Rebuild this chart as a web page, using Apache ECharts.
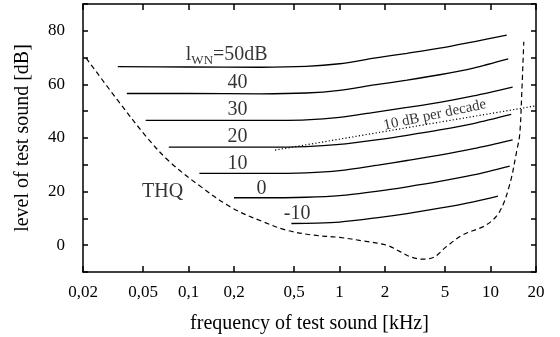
<!DOCTYPE html>
<html><head><meta charset="utf-8">
<script src="https://cdn.jsdelivr.net/npm/echarts@6/dist/echarts.min.js"></script>
<style>html,body{margin:0;padding:0;background:#fff}#c{width:560px;height:337px}</style>
</head><body><div id="c"></div>
<script>
// ---- data (frequency in kHz, level in dB) ----
const xTickValues = [0.02, 0.05, 0.1, 0.2, 0.5, 1, 2, 5, 10, 20];
const xTickLabels = ['0,02', '0,05', '0,1', '0,2', '0,5', '1', '2', '5', '10', '20'];
const yTickLabels = [0, 20, 40, 60, 80];

const l50F = [0.034, 0.1, 0.3, 0.6, 1, 1.7, 2.8, 4.6, 7.7, 12.8];
const l50  = [66.6, 66.5, 66.4, 66.7, 67.7, 69.8, 71.6, 73.5, 75.9, 78.4];
const l40F = [0.039, 0.1, 0.3, 0.6, 1, 1.7, 2.8, 4.6, 7.7, 13.1];
const l40  = [56.6, 56.6, 56.5, 56.8, 57.8, 59.8, 61.6, 63.6, 66.1, 69.5];
const l30F = [0.052, 0.1, 0.3, 0.6, 1, 1.7, 2.8, 4.6, 7.7, 14.0];
const l30  = [46.6, 46.6, 46.6, 46.8, 47.7, 49.6, 51.4, 53.3, 55.7, 59.0];
const l20F = [0.074, 0.1, 0.3, 0.6, 1, 1.8, 2.8, 4.6, 7.7, 13.7];
const l20  = [36.6, 36.6, 36.6, 36.8, 37.6, 39.4, 41.0, 43.0, 45.4, 48.8];
const l10F = [0.118, 0.3, 0.6, 1, 1.8, 2.8, 4.6, 7.7, 14.0];
const l10  = [26.8, 26.8, 27.0, 27.8, 29.9, 31.6, 33.6, 36.0, 39.3];
const l0F  = [0.2, 0.3, 0.6, 1, 1.8, 2.8, 4.6, 7.7, 13.4];
const l0   = [17.7, 17.7, 17.9, 18.5, 20.2, 21.8, 23.8, 26.2, 29.5];
const lm10F = [0.48, 0.7, 1, 1.8, 2.8, 4.6, 7.7, 11.2];
const lm10  = [8.1, 8.2, 8.6, 10.3, 11.8, 13.8, 16.2, 18.3];

const thqF = [0.021, 0.0335, 0.0534, 0.0744, 0.115, 0.196, 0.31, 0.44, 0.66, 1.0, 1.43, 2.05, 2.5, 2.9, 3.48, 4.17, 5.11, 6.58, 9.4, 11.5, 13.4, 14.9, 15.6, 16.1, 16.6];
const thq  = [69.8, 54.5, 40.0, 31.3, 22.7, 13.8, 8.8, 5.7, 3.8, 2.9, 1.6, 0.0, -2.3, -4.2, -5.2, -4.6, -0.5, 3.9, 7.6, 12.6, 22.7, 35.1, 41.3, 56.8, 75.9];

const decF = [0.374, 20];
const dec  = [35.5, 52.0];

// annotation texts (anchored in data coordinates: kHz, dB)
const annotations = [
  {text: '{a|l}{b|WN}{a|=50dB}', f: 0.179, db: 71.0},
  {text: '40', f: 0.211, db: 60.5},
  {text: '30', f: 0.211, db: 50.4},
  {text: '20', f: 0.211, db: 40.4},
  {text: '10', f: 0.211, db: 30.3},
  {text: '0',  f: 0.304, db: 21.2},
  {text: '-10', f: 0.524, db: 11.8},
  {text: 'THQ', f: 0.0673, db: 20.0, size: 20},
  {text: '10 dB per decade', f: 4.28, db: 48.6, size: 15, rotate: 12}
];

// ---- chart ----
const FONT = 'Liberation Serif';
const L = v => Math.log10(v);
const pts = (f, d) => f.map((x, i) => [L(x), d[i]]);
const xTickPos = xTickValues.map(L);
function xLabel(v) {
  let best = 0;
  for (let i = 1; i < xTickPos.length; i++) if (Math.abs(xTickPos[i] - v) < Math.abs(xTickPos[best] - v)) best = i;
  return xTickLabels[best];
}
const axisLineStyle = {onZero: false, lineStyle: {color: '#000', width: 1.5}};
const tickStyle = {color: '#000', width: 1.5};
const xMin = L(0.02), xMax = L(20);

function curve(f, d, extra) {
  return Object.assign({
    type: 'line', data: pts(f, d), showSymbol: false, smooth: 0.3,
    lineStyle: {color: '#000', width: 1.3}, silent: true, z: 3
  }, extra || {});
}

const chart = echarts.init(document.getElementById('c'));
chart.setOption({
  animation: false,
  backgroundColor: '#fff',
  grid: {left: 83, right: 24, top: 4, bottom: 65, containLabel: false, outerBoundsMode: 'none'},
  xAxis: [
    {type: 'value', min: xMin, max: xMax, position: 'bottom',
     name: 'frequency of test sound [kHz]', nameLocation: 'middle', nameGap: 42,
     nameTextStyle: {fontFamily: FONT, fontSize: 20, color: '#000'},
     axisLine: axisLineStyle,
     axisTick: {inside: true, length: 6, customValues: xTickPos, lineStyle: tickStyle},
     axisLabel: {customValues: xTickPos, formatter: xLabel, margin: 12, fontFamily: FONT, fontSize: 17, color: '#000'},
     splitLine: {show: false}},
    {type: 'value', min: xMin, max: xMax, position: 'top',
     axisLine: axisLineStyle,
     axisTick: {inside: true, length: 6, customValues: xTickPos, lineStyle: tickStyle},
     axisLabel: {show: false}, splitLine: {show: false}}
  ],
  yAxis: [
    {type: 'value', min: -10, max: 90, interval: 10, position: 'left',
     name: 'level of test sound [dB]', nameLocation: 'middle', nameGap: 50,
     nameTextStyle: {fontFamily: FONT, fontSize: 20, color: '#000'},
     axisLine: axisLineStyle,
     axisTick: {inside: true, length: 5, lineStyle: tickStyle},
     axisLabel: {formatter: v => yTickLabels.indexOf(v) >= 0 ? String(v) : '', margin: 18,
                 fontFamily: FONT, fontSize: 17, color: '#000'},
     splitLine: {show: false}},
    {type: 'value', min: -10, max: 90, interval: 10, position: 'right',
     axisLine: axisLineStyle,
     axisTick: {inside: true, length: 5, lineStyle: tickStyle},
     axisLabel: {show: false}, splitLine: {show: false}}
  ],
  series: [
    curve(l50F, l50), curve(l40F, l40), curve(l30F, l30), curve(l20F, l20),
    curve(l10F, l10), curve(l0F, l0), curve(lm10F, lm10),
    curve(thqF, thq, {smooth: 0.35, lineStyle: {color: '#000', width: 1.2, type: [5, 3.5]}}),
    curve(decF, dec, {smooth: false, lineStyle: {color: '#000', width: 1.2, type: [1.2, 2.2]}}),
    {type: 'scatter', symbolSize: 1, itemStyle: {color: 'rgba(0,0,0,0)'}, silent: true, z: 5,
     data: annotations.map(a => ({
       value: [L(a.f), a.db],
       label: {show: true, position: 'inside', formatter: a.text, rotate: a.rotate || 0,
               fontFamily: FONT, fontSize: a.size || 20, color: '#000',
               rich: {a: {fontFamily: FONT, fontSize: 20, color: '#000', lineHeight: 24},
                      b: {fontFamily: FONT, fontSize: 13, color: '#000', verticalAlign: 'bottom'}}}
     }))}
  ]
});
</script></body></html>
